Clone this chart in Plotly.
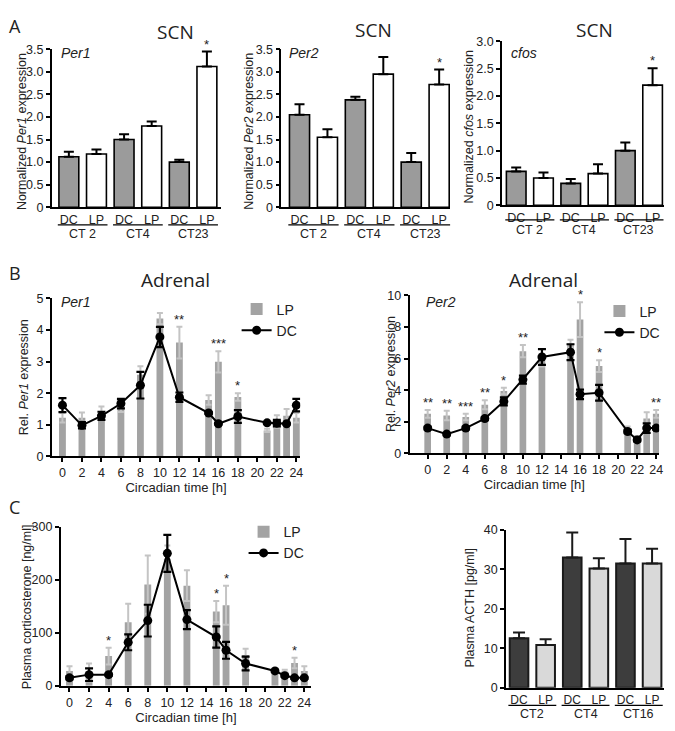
import plotly.graph_objects as go

W, H = 675, 731
OFF = 8                      # default page margin of the html body
FW, FH = W - OFF, H - OFF    # figure size so that the page is exactly W x H

# ---------------- Panel A : SCN ----------------
a_cats = ["DC", "LP", "DC", "LP", "DC", "LP"]
a_groups = ["CT 2", "CT4", "CT23"]
per1_scn = [1.12, 1.18, 1.50, 1.80, 1.00, 3.12]
per1_scn_err = [0.11, 0.10, 0.12, 0.10, 0.05, 0.33]
per1_scn_sig = ["", "", "", "", "", "*"]
per2_scn = [2.05, 1.55, 2.38, 2.95, 1.00, 2.72]
per2_scn_err = [0.23, 0.18, 0.07, 0.38, 0.20, 0.33]
per2_scn_sig = ["", "", "", "", "", "*"]
cfos_scn = [0.62, 0.50, 0.40, 0.58, 1.00, 2.20]
cfos_scn_err = [0.07, 0.10, 0.08, 0.17, 0.15, 0.31]
cfos_scn_sig = ["", "", "", "", "", "*"]
a_ticks35 = [0, 0.5, 1.0, 1.5, 2.0, 2.5, 3.0, 3.5]
a_tick35_text = ["0", "0.5", "1.0", "1.5", "2.0", "2.5", "3.0", "3.5"]
a_ticks30 = [0, 0.5, 1.0, 1.5, 2.0, 2.5, 3.0]
a_tick30_text = ["0", "0.5", "1.0", "1.5", "2.0", "2.5", "3.0"]

# ---------------- Panel B : Adrenal ----------------
ct_b = [0, 2, 4, 6, 8, 10, 12, 15, 16, 18, 21, 22, 23, 24]
per1_lp = [1.22, 1.22, 1.38, 1.55, 2.58, 4.36, 3.60, 1.78, 2.99, 1.88, 0.82, 1.10, 1.28, 1.22]
per1_lp_err = [0.15, 0.17, 0.20, 0.15, 0.27, 0.18, 0.50, 0.15, 0.34, 0.12, 0.05, 0.20, 0.22, 0.15]
per1_dc = [1.62, 0.98, 1.28, 1.67, 2.25, 3.78, 1.87, 1.37, 1.03, 1.26, 1.06, 1.05, 1.03, 1.62]
per1_dc_err = [0.22, 0.10, 0.13, 0.15, 0.42, 0.32, 0.15, 0.03, 0.02, 0.20, 0.02, 0.10, 0.02, 0.20]
per1_sig = ["", "", "", "", "", "", "**", "", "***", "*", "", "", "", ""]

per2_lp = [2.50, 2.40, 2.30, 3.08, 3.95, 6.47, 5.90, 6.95, 8.47, 5.53, 1.50, 0.90, 2.20, 2.50]
per2_lp_err = [0.25, 0.30, 0.20, 0.29, 0.20, 0.39, 0.40, 0.25, 1.10, 0.37, 0.20, 0.20, 0.40, 0.25]
per2_dc = [1.60, 1.22, 1.60, 2.20, 3.29, 4.67, 6.10, 6.41, 3.74, 3.84, 1.38, 0.85, 1.60, 1.60]
per2_dc_err = [0.10, 0.08, 0.10, 0.10, 0.25, 0.25, 0.50, 0.50, 0.30, 0.50, 0.10, 0.10, 0.30, 0.10]
per2_sig = ["**", "**", "***", "**", "*", "**", "", "", "*", "*", "", "", "", "**"]

# ---------------- Panel C : plasma hormones ----------------
cort_lp = [28, 25, 56, 120, 191, 240, 189, 140, 152, 58, 28, 27, 43, 28]
cort_lp_err = [9, 17, 16, 35, 55, 25, 29, 20, 37, 12, 4, 3, 10, 9]
cort_dc = [15, 21, 21, 82, 123, 250, 125, 92, 67, 42, 28, 19, 15, 15]
cort_dc_err = [3, 12, 2, 15, 30, 35, 18, 20, 16, 13, 2, 2, 2, 2]
cort_sig = ["", "", "*", "", "", "", "", "*", "*", "", "", "", "*", ""]

acth_cats = ["DC", "LP", "DC", "LP", "DC", "LP"]
acth_groups = ["CT2", "CT4", "CT16"]
acth_vals = [12.5, 10.8, 33.0, 30.2, 31.5, 31.5]
acth_err = [1.5, 1.5, 6.3, 2.6, 6.2, 3.7]

# ---------------- helpers (page pixels -> paper fractions) ----------------
def px(p):
    return (p - OFF) / FW

def py(p):
    return 1 - (p - OFF) / FH

def xd(a, b):
    return [px(a), px(b)]

def yd(top, bottom):
    return [py(bottom), py(top)]

SANS = "Liberation Sans"
TITLEFONT = "Open Sans"
TXT = "#222"
TICKFONT = dict(family=SANS, size=12.5, color=TXT)

fig = go.Figure()
annotations = []
shapes = []

def ann(x, y, text, xref="paper", yref="paper", size=12, family=SANS, **kw):
    d = dict(x=x, y=y, xref=xref, yref=yref, text=text, showarrow=False,
             xanchor="center", yanchor="middle",
             font=dict(family=family, size=size, color=TXT))
    d.update(kw)
    annotations.append(d)

def axis_common(**kw):
    d = dict(showline=True, linecolor="black", linewidth=1.6, showgrid=False,
             zeroline=False, ticks="outside", ticklen=4, tickwidth=1.5,
             tickcolor="black", tickfont=TICKFONT, fixedrange=True)
    d.update(kw)
    return d

layout_axes = {}

# ---- Panel A bar charts ----
a_specs = [
    ("x", "y", per1_scn, per1_scn_err, per1_scn_sig, "Per1", (52, 222), (43, 204),
     [-0.62, 5.5], 3.5, a_ticks35, a_tick35_text, 22, (59, 47), (177, 25), 222, 231),
    ("x2", "y2", per2_scn, per2_scn_err, per2_scn_sig, "Per2", (283, 453), (43, 204),
     [-0.65, 5.4], 3.5, a_ticks35, a_tick35_text, 251, (289, 47), (376, 23), 222, 231),
    ("x3", "y3", cfos_scn, cfos_scn_err, cfos_scn_sig, "cfos", (505, 668), (35, 202),
     [-0.52, 5.42], 3.0, a_ticks30, a_tick30_text, 472, (512, 47), (598, 23), 217, 227),
]
for (xa, ya, vals, errs, sig, gene, xdom, ydom, xr, ymax, tv, tt, ytx,
     genepos, titlepos, line_y, grp_y) in a_specs:
    pos = list(range(len(a_cats)))
    colors = ["#9b9b9b" if c == "DC" else "white" for c in a_cats]
    fig.add_trace(go.Bar(
        x=pos, y=vals, width=0.72, xaxis=xa, yaxis=ya, showlegend=False,
        marker=dict(color=colors, line=dict(color="black", width=1.6)),
        error_y=dict(type="data", array=errs, arrayminus=[0] * len(errs),
                     symmetric=False, color="black", thickness=2, width=5)))
    xn = "xaxis" + xa[1:]
    yn = "yaxis" + ya[1:]
    layout_axes[xn] = axis_common(domain=xd(*xdom), range=xr, anchor=ya,
                                  tickvals=pos, ticktext=a_cats, ticks="",
                                  tickfont=dict(family=SANS, size=12.5, color=TXT))
    layout_axes[yn] = axis_common(domain=yd(*ydom), range=[0, ymax], anchor=xa,
                                  tickvals=tv, ticktext=tt)
    for i, s in enumerate(sig):
        if s:
            ann(pos[i], vals[i] + errs[i], s, xref=xa, yref=ya, size=13,
                yanchor="bottom", yshift=-2)
    for g, name in enumerate(a_groups):
        c0, c1 = pos[2 * g], pos[2 * g + 1]
        shapes.append(dict(type="line", xref=xa, yref="paper", x0=c0 - 0.4, x1=c1 + 0.4,
                           y0=py(line_y), y1=py(line_y), line=dict(color="black", width=1.3)))
        ann((c0 + c1) / 2, py(grp_y), name, xref=xa, size=12.5)
    ann(px(ytx), py((ydom[0] + ydom[1]) / 2 + 3), "Normalized <i>%s</i> expression" % gene,
        textangle=-90, size=12.5)
    ann(px(genepos[0]), py(genepos[1]), "<i>%s</i>" % gene, xanchor="left", size=14)
    ann(px(titlepos[0]), py(titlepos[1]), "SCN", family=TITLEFONT, size=19)

# ---- Panel B & C time courses ----
time_specs = [
    ("x4", "y4", per1_lp, per1_lp_err, per1_dc, per1_dc_err, per1_sig, "legend",
     (52, 302), (297, 458), [-1.1, 24.4], [0, 5], 1,
     "Rel. <i>Per1</i> expression", 24, "<i>Per1</i>", (59, 301), "Adrenal", (177, 278),
     (238, 292)),
    ("x5", "y5", per2_lp, per2_lp_err, per2_dc, per2_dc_err, per2_sig, "legend2",
     (412, 663), (294, 455), [-1.9, 24.3], [0, 10], 2,
     "Rel. <i>Per2</i> expression", 394, "<i>Per2</i>", (427, 301), "Adrenal", (547, 278),
     (603, 294)),
    ("x6", "y6", cort_lp, cort_lp_err, cort_dc, cort_dc_err, cort_sig, "legend3",
     (61, 313), (530, 692), [-0.9, 24.7], [0, 300], 100,
     "Plasma corticosterone [ng/ml]", 27, None, None, None, None,
     (245, 519)),
]
legend_cfg = {}
for (xa, ya, lp, lpe, dc, dce, sig, leg, xdom, ydom, xr, yr, dt,
     ytitle, ytx, gene, genepos, title, titlepos, legpos) in time_specs:
    fig.add_trace(go.Bar(
        x=ct_b, y=lp, width=0.7, xaxis=xa, yaxis=ya, name="LP", legend=leg,
        marker=dict(color="#a3a3a3", line=dict(width=0)),
        error_y=dict(type="data", array=lpe, color="#c4c4c4", thickness=2, width=3)))
    fig.add_trace(go.Scatter(
        x=ct_b, y=dc, xaxis=xa, yaxis=ya, name="DC", legend=leg, mode="lines+markers",
        line=dict(color="black", width=2), marker=dict(color="black", size=9),
        error_y=dict(type="data", array=dce, color="black", thickness=2.2, width=4)))
    xn = "xaxis" + xa[1:]
    yn = "yaxis" + ya[1:]
    layout_axes[xn] = axis_common(domain=xd(*xdom), range=xr, anchor=ya,
                                  tickvals=list(range(0, 25, 2)),
                                  title=dict(text="Circadian time [h]", standoff=2,
                                             font=dict(family=SANS, size=13, color=TXT)))
    layout_axes[yn] = axis_common(domain=yd(*ydom), range=yr, anchor=xa, dtick=dt, tick0=0)
    for i, s in enumerate(sig):
        if s:
            top = max(lp[i] + lpe[i], dc[i] + dce[i])
            ann(ct_b[i], top, s, xref=xa, yref=ya, size=13, yanchor="bottom", yshift=-2)
    ann(px(ytx), py((ydom[0] + ydom[1]) / 2), ytitle, textangle=-90, size=12.5)
    if gene:
        ann(px(genepos[0]), py(genepos[1]), gene, xanchor="left", size=14)
    if title:
        ann(px(titlepos[0]), py(titlepos[1]), title, family=TITLEFONT, size=19)
    legend_cfg[leg] = dict(x=px(legpos[0]), y=py(legpos[1]), xanchor="left", yanchor="top",
                           bgcolor="rgba(0,0,0,0)", font=dict(family=SANS, size=14, color=TXT),
                           traceorder="normal")

# ---- Panel C : ACTH bars ----
acth_pos = list(range(len(acth_cats)))
fig.add_trace(go.Bar(
    x=acth_pos, y=acth_vals, width=0.7, xaxis="x7", yaxis="y7", showlegend=False,
    marker=dict(color=["#3d3d3d" if c == "DC" else "#d9d9d9" for c in acth_cats],
                line=dict(color="#1a1a1a", width=2)),
    error_y=dict(type="data", array=acth_err, arrayminus=[0] * len(acth_err),
                 symmetric=False, color="#1a1a1a", thickness=2, width=6)))
layout_axes["xaxis7"] = axis_common(domain=xd(509, 668), range=[-0.49, 5.45], anchor="y7",
                                    tickvals=acth_pos, ticktext=acth_cats, ticks="",
                                    tickfont=dict(family=SANS, size=12, color=TXT))
layout_axes["yaxis7"] = axis_common(domain=yd(533, 694), range=[0, 40], anchor="x7",
                                    dtick=10, tick0=0)
for g, name in enumerate(acth_groups):
    c0, c1 = acth_pos[2 * g], acth_pos[2 * g + 1]
    shapes.append(dict(type="line", xref="x7", yref="paper", x0=c0 - 0.4, x1=c1 + 0.4,
                       y0=py(712), y1=py(712), line=dict(color="black", width=1.3)))
    ann((c0 + c1) / 2, py(721), name, xref="x7", size=12.5)
ann(px(473), py(613), "Plasma ACTH [pg/ml]", textangle=-90, size=12.5)

# ---- panel letters (kept inside the figure area) ----
for letter, (lx, ly) in zip(["A", "B", "C"], [(15, 19), (15, 271), (15, 510)]):
    ann(px(lx), py(ly), letter, family=TITLEFONT, size=18)

fig.update_layout(
    width=FW, height=FH, margin=dict(l=0, r=0, t=0, b=0),
    paper_bgcolor="white", plot_bgcolor="white",
    font=dict(family=SANS, color=TXT),
    showlegend=True, barmode="overlay",
    annotations=annotations, shapes=shapes,
    **layout_axes, **legend_cfg,
)

fig.write_html("out.html")
